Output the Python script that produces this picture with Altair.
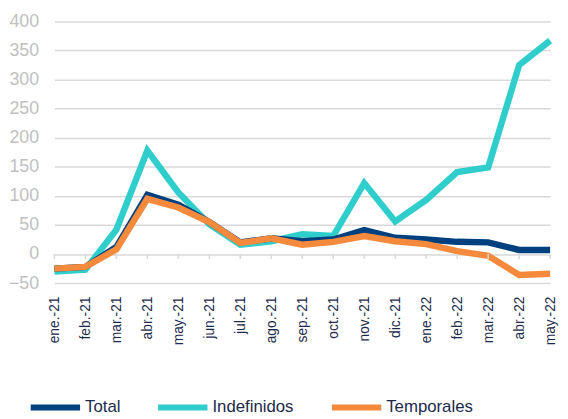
import altair as alt
import pandas as pd

months = ["ene.-21", "feb.-21", "mar.-21", "abr.-21", "may.-21", "jun.-21", "jul.-21",
          "ago.-21", "sep.-21", "oct.-21", "nov.-21", "dic.-21", "ene.-22", "feb.-22",
          "mar.-22", "abr.-22", "may.-22"]
total = [-25, -22, 12, 102, 85, 55, 20, 27, 22, 25, 41, 28, 25, 21, 20, 7, 7]
indefinidos = [-30, -27, 42, 178, 106, 51, 16, 22, 34, 31, 122, 56, 93, 141, 149, 325, 367]
temporales = [-25, -22, 8, 95, 80, 55, 19, 27, 16, 21, 31, 22, 17, 5, -3, -36, -34]
y_ticks = [-50, 0, 50, 100, 150, 200, 250, 300, 350, 400]

series_names = ["Total", "Indefinidos", "Temporales"]
series_colors = ["#01407E", "#2FCDCB", "#F68A3C"]

rows = []
for name, vals in zip(series_names, [total, indefinidos, temporales]):
    for m, v in zip(months, vals):
        rows.append({"mes": m, "serie": name, "valor": v})
df = pd.DataFrame(rows)
ticks_df = pd.DataFrame({"mes": months})

FONT = "Liberation Sans"

x_scale = alt.Scale(type="point", padding=0, domain=months)
x_axis = alt.Axis(title=None, labelAngle=-90, labelFontSize=14, labelColor="#1B2A4A",
                  labelFont=FONT, ticks=False, domain=False, grid=False,
                  labelPadding=13, labelBaseline="middle", labelAlign="right",
                  labelOverlap=False)
y_scale = alt.Scale(domain=[-50, 400], nice=False, zero=False)
y_axis = alt.Axis(title=None, values=y_ticks, labelFontSize=18,
                  labelColor="#BFBFBF", labelFont=FONT, ticks=False, domain=False,
                  grid=True, gridColor="#D9D9D9", gridWidth=1.5, labelPadding=16,
                  labelOverlap=False, labelBound=False, labelFlush=False)

x_enc = alt.X("mes:N", sort=months, scale=x_scale, axis=x_axis)
y_enc = alt.Y("valor:Q", scale=y_scale, axis=y_axis)
color_enc = alt.Color("serie:N",
                      scale=alt.Scale(domain=series_names, range=series_colors),
                      legend=alt.Legend(title=None, orient="none", legendX=-27, legendY=363,
                                        direction="horizontal", symbolType="stroke",
                                        symbolStrokeWidth=6, symbolSize=2500,
                                        labelFontSize=17, labelColor="#1B2A4A", labelFont=FONT,
                                        labelOffset=2, columnPadding=26, padding=0))

layers = []
for name in ["Indefinidos", "Total", "Temporales"]:
    layers.append(
        alt.Chart(df).transform_filter(alt.datum.serie == name)
        .mark_line(strokeWidth=6.5, strokeCap="butt", strokeJoin="miter")
        .encode(x=x_enc, y=y_enc, color=color_enc)
    )

tick_layer = alt.Chart(ticks_df).mark_rule(color="#D9D9D9", strokeWidth=1.5).encode(
    x=x_enc,
    y=alt.YDatum(0, scale=y_scale, axis=y_axis),
    y2=alt.datum(-8.5),
)

chart = alt.layer(*layers, tick_layer).properties(
    width=502, height=265,
    autosize=alt.AutoSizeParams(type="none"),
    padding={"left": 47, "top": 11, "right": 10, "bottom": 135},
).configure_view(stroke=None)

chart.save("out.html", embed_options={"renderer": "svg", "actions": False})
